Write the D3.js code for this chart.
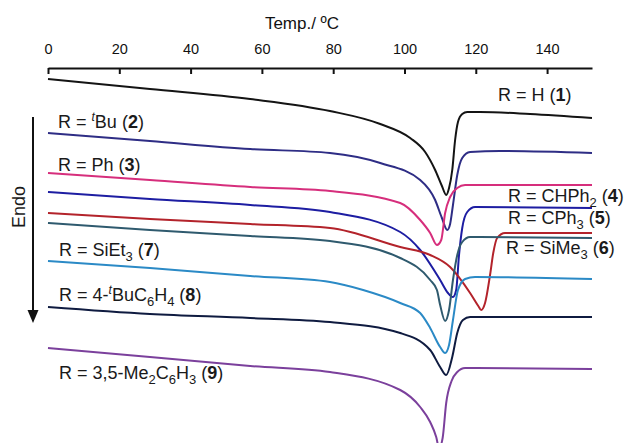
<!DOCTYPE html>
<html>
<head>
<meta charset="utf-8">
<script src="https://cdn.jsdelivr.net/npm/d3@7"></script>
<style>
  body { margin: 0; background: #fff; }
  svg { display: block; font-family: "Liberation Sans", Arial, sans-serif; }
</style>
</head>
<body>
<div id="chart"></div>
<script>
// DSC curves, temperature (ºC) vs heat flow (a.u., endo down)
const xTicks = [0, 20, 40, 60, 80, 100, 120, 140];

const curve1 = [[0,-1.1],[28.6,-2.1],[56.7,-3.1],[79.1,-4.3],[93.2,-5.6],[101.6,-7.0],[105.8,-8.4],[108.6,-10.2],[110.5,-11.8],[111.7,-12.7],[112.5,-12.0],[113.4,-10.2],[114.2,-7.2],[115.0,-5.4],[116.2,-4.6],[117.6,-4.4],[121.2,-4.4],[135.2,-4.6],[152.6,-5.0]];
const curve2 = [[0,-6.5],[28.6,-7.3],[56.7,-8.1],[79.1,-8.5],[93.2,-9.5],[104.4,-11.2],[108.6,-13.2],[110.5,-15.0],[112.0,-16.2],[112.8,-15.6],[113.6,-13.7],[114.8,-10.7],[116.2,-9.0],[118.4,-8.4],[126.8,-8.3],[152.6,-8.5]];
const curve3 = [[0,-10.5],[28.6,-11.2],[56.7,-11.9],[79.1,-12.3],[98.8,-13.5],[104.4,-15.2],[107.2,-16.5],[109.1,-17.7],[110.3,-17.2],[111.4,-14.5],[112.8,-12.9],[114.8,-12.0],[117.0,-11.7],[152.6,-11.7]];
const curve4 = [[0,-12.4],[28.6,-13.1],[56.7,-13.7],[79.1,-14.4],[98.8,-16.4],[104.4,-18.2],[110.0,-21.2],[112.2,-22.5],[113.6,-22.9],[114.5,-22.2],[115.3,-18.7],[116.2,-16.0],[117.6,-14.4],[119.8,-13.9],[152.6,-14.0]];
const curve5 = [[0,-14.5],[28.6,-15.1],[56.7,-15.6],[79.1,-16.0],[98.8,-17.9],[107.2,-18.7],[112.8,-19.9],[118.4,-22.5],[120.7,-23.8],[121.5,-24.2],[122.6,-23.5],[124.0,-20.7],[124.9,-18.5],[126.0,-17.0],[128.2,-16.5],[152.6,-16.5]];
const curve6 = [[0,-15.5],[28.6,-16.2],[56.7,-16.8],[79.1,-17.3],[98.8,-19.0],[107.2,-21.2],[109.1,-22.2],[110.0,-23.7],[111.4,-25.3],[112.5,-24.2],[113.6,-21.2],[114.8,-18.7],[116.2,-17.4],[118.4,-16.9],[152.6,-17.0]];
const curve7 = [[0,-19.3],[28.6,-20.0],[56.7,-20.8],[79.1,-21.4],[88.4,-22.2],[98.8,-23.5],[104.4,-24.5],[107.2,-26.0],[110.0,-27.9],[111.4,-28.5],[112.5,-27.7],[113.6,-25.2],[115.0,-22.2],[117.0,-21.1],[119.8,-20.9],[152.6,-21.1]];
const curve8 = [[0,-23.9],[28.6,-24.6],[56.7,-25.0],[79.1,-25.4],[98.8,-26.5],[107.2,-28.2],[110.0,-29.9],[111.7,-30.7],[113.4,-28.9],[114.8,-26.5],[116.4,-25.2],[118.4,-24.9],[152.6,-24.9]];
const curve9 = [[0,-28.0],[28.6,-28.9],[56.7,-29.8],[79.1,-30.4],[98.8,-32.2],[104.4,-33.9],[107.2,-35.4],[108.9,-36.9],[109.7,-38.0],[110.7,-37.0],[111.7,-33.5],[113.2,-31.3],[114.8,-30.4],[117.0,-30.0],[152.6,-30.1]];

// label pieces: [text, kind]  kind: n normal, b bold, sub, isup (italic superscript)
const label1 = [["R = H (", "n"], ["1", "b"], [")", "n"]];
const label2 = [["R = ", "n"], ["t", "isup"], ["Bu (", "n"], ["2", "b"], [")", "n"]];
const label3 = [["R = Ph (", "n"], ["3", "b"], [")", "n"]];
const label4 = [["R = CHPh", "n"], ["2", "sub"], [" (", "n"], ["4", "b"], [")", "n"]];
const label5 = [["R = CPh", "n"], ["3", "sub"], [" (", "n"], ["5", "b"], [")", "n"]];
const label6 = [["R = SiMe", "n"], ["3", "sub"], [" (", "n"], ["6", "b"], [")", "n"]];
const label7 = [["R = SiEt", "n"], ["3", "sub"], [" (", "n"], ["7", "b"], [")", "n"]];
const label8 = [["R = 4-", "n"], ["t", "isup"], ["BuC", "n"], ["6", "sub"], ["H", "n"], ["4", "sub"], [" (", "n"], ["8", "b"], [")", "n"]];
const label9 = [["R = 3,5-Me", "n"], ["2", "sub"], ["C", "n"], ["6", "sub"], ["H", "n"], ["3", "sub"], [" (", "n"], ["9", "b"], [")", "n"]];

const series = [
  {data: curve1, color: "#141414", label: label1, lx: 498, ly: 101},
  {data: curve2, color: "#2e2d85", label: label2, lx: 58, ly: 128},
  {data: curve3, color: "#d62e7c", label: label3, lx: 58, ly: 171},
  {data: curve4, color: "#1d1da2", label: label4, lx: 508, ly: 202},
  {data: curve5, color: "#b3232b", label: label5, lx: 508, ly: 224},
  {data: curve6, color: "#2f5a6e", label: label6, lx: 506, ly: 254},
  {data: curve7, color: "#2b8ac6", label: label7, lx: 59, ly: 256},
  {data: curve8, color: "#0f1b40", label: label8, lx: 59, ly: 301},
  {data: curve9, color: "#7b409c", label: label9, lx: 59, ly: 379}
];

const width = 627, height = 443;

const svg = d3.select("#chart").append("svg")
    .attr("width", width)
    .attr("height", height);

const xScale = d3.scaleLinear().domain([0, 152.6]).range([48, 592]);
const yScale = d3.scaleLinear().domain([0, -37.5]).range([68, 443]);

// top axis, ticks pointing down
const xAxis = d3.axisTop(xScale)
    .tickValues(xTicks)
    .tickSizeInner(-6)
    .tickSizeOuter(0)
    .tickPadding(14);

const gx = svg.append("g")
    .attr("transform", "translate(0,68)")
    .call(xAxis);
gx.select(".domain").attr("stroke", "#111").attr("stroke-width", 2.2);
gx.selectAll(".tick line").attr("stroke", "#111").attr("stroke-width", 2);
gx.selectAll(".tick text")
    .attr("font-size", 14.5)
    .attr("font-family", "Liberation Sans, Arial, sans-serif")
    .attr("fill", "#111");

svg.append("text")
    .attr("x", 302)
    .attr("y", 29)
    .attr("text-anchor", "middle")
    .attr("font-size", 17)
    .attr("fill", "#111")
    .text("Temp./ ºC");

// curves
const line = d3.line()
    .x(d => xScale(d[0]))
    .y(d => yScale(d[1]))
    .curve(d3.curveMonotoneX);

svg.selectAll("path.dsc")
    .data(series)
    .join("path")
    .attr("class", "dsc")
    .attr("d", d => line(d.data))
    .attr("fill", "none")
    .attr("stroke", d => d.color)
    .attr("stroke-width", 2);

// labels
const labels = svg.selectAll("text.lab")
    .data(series)
    .join("text")
    .attr("class", "lab")
    .attr("x", d => d.lx)
    .attr("y", d => d.ly)
    .attr("font-size", 18)
    .attr("fill", "#1a1a1a");

labels.each(function(d) {
    const t = d3.select(this);
    let shift = 0;
    d.label.forEach(function(p) {
        const ts = t.append("tspan").text(p[0]);
        let target = 0;
        if (p[1] === "sub") { target = 5; ts.attr("font-size", 13); }
        if (p[1] === "isup") { target = -7; ts.attr("font-size", 12).attr("font-style", "italic"); }
        if (p[1] === "b") ts.attr("font-weight", "bold");
        if (target !== shift) { ts.attr("dy", target - shift); shift = target; }
    });
});

// Endo arrow
svg.append("line")
    .attr("x1", 33).attr("y1", 117)
    .attr("x2", 33).attr("y2", 312)
    .attr("stroke", "#111")
    .attr("stroke-width", 2);
svg.append("path")
    .attr("d", "M27.5,310 L38.5,310 L33,323 Z")
    .attr("fill", "#111");

svg.append("text")
    .attr("transform", "translate(25,207) rotate(-90)")
    .attr("text-anchor", "middle")
    .attr("font-size", 18)
    .attr("fill", "#1a1a1a")
    .text("Endo");
</script>
</body>
</html>
